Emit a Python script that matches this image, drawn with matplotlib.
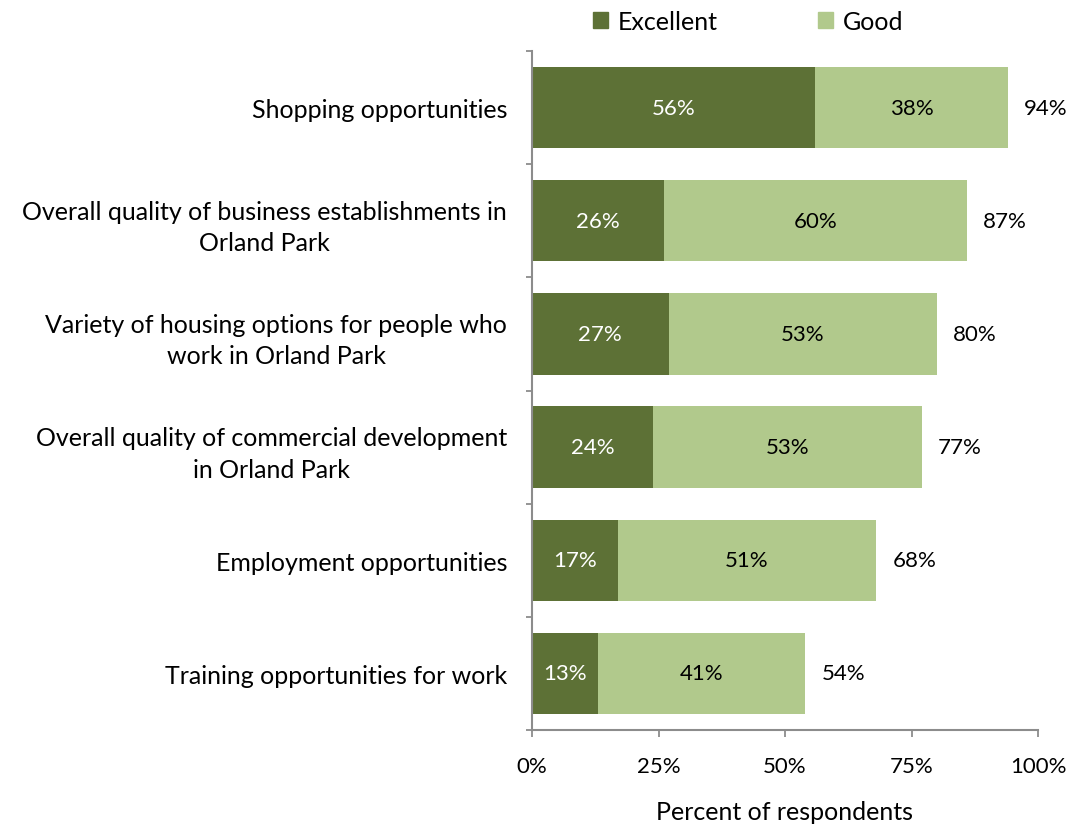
import matplotlib
matplotlib.use("Agg")
import matplotlib.pyplot as plt
import numpy as np
from matplotlib.patches import Patch

categories = [
    "Shopping opportunities",
    "Overall quality of business establishments in\nOrland Park",
    "Variety of housing options for people who\nwork in Orland Park",
    "Overall quality of commercial development\nin Orland Park",
    "Employment opportunities",
    "Training opportunities for work",
]
excellent = [56, 26, 27, 24, 17, 13]
good = [38, 60, 53, 53, 51, 41]
totals = [94, 87, 80, 77, 68, 54]
xticks = [0, 25, 50, 75, 100]
xtick_labels = ["0%", "25%", "50%", "75%", "100%"]

dark = "#5D7136"
light = "#B1C98C"
axis_col = "#8C8C8C"
font = "Lato"
fs = 18
fsn = 16

fig = plt.figure(figsize=(10.70, 8.28), dpi=100)
ax = fig.add_axes([532/1070, 1-731/828, (1038-532)/1070, (731-52)/828])

n = len(categories)
y = np.arange(n)
h = 0.72
ax.barh(y, excellent, height=h, color=dark, linewidth=0)
ax.barh(y, good, left=excellent, height=h, color=light, linewidth=0)

for i in range(n):
    ax.text(excellent[i]/2, y[i], f"{excellent[i]}%", ha="center", va="center",
            color="white", fontsize=fsn, family=font)
    ax.text(excellent[i] + good[i]/2, y[i], f"{good[i]}%", ha="center", va="center",
            color="black", fontsize=fsn, family=font)
    ax.text(excellent[i] + good[i] + 3.2, y[i], f"{totals[i]}%", ha="left", va="center",
            color="black", fontsize=fsn, family=font)

ax.set_ylim(n - 0.5, -0.5)
ax.set_xlim(0, 100)
ax.set_yticks(y)
ax.set_yticklabels(categories, fontsize=fs, family=font)
for t in ax.get_yticklabels():
    t.set_multialignment("center")
    t.set_linespacing(1.45)
ax.set_yticks(np.arange(-0.5, n, 1), minor=True)
ax.tick_params(axis="y", which="major", length=0, pad=18)
ax.tick_params(axis="y", which="minor", length=4, width=1.3, color=axis_col)
ax.set_xticks(xticks)
ax.set_xticklabels(xtick_labels, fontsize=fsn, family=font)
ax.tick_params(axis="x", which="major", length=5, width=1.3, color=axis_col, pad=14)

for s in ["top", "right"]:
    ax.spines[s].set_visible(False)
for s in ["left", "bottom"]:
    ax.spines[s].set_color(axis_col)
    ax.spines[s].set_linewidth(1.5)

ax.set_xlabel("Percent of respondents", fontsize=fs, family=font, labelpad=17)

handles = [Patch(color=dark, label="Excellent"), Patch(color=light, label="Good")]
fig.legend(handles=handles, loc="center", bbox_to_anchor=(748/1070, 1-22/828), ncol=2,
           frameon=False, prop={"family": font, "size": fs}, handlelength=0.6,
           handleheight=0.6, handletextpad=0.4, columnspacing=4.0)

fig.savefig("out.png", dpi=100)
